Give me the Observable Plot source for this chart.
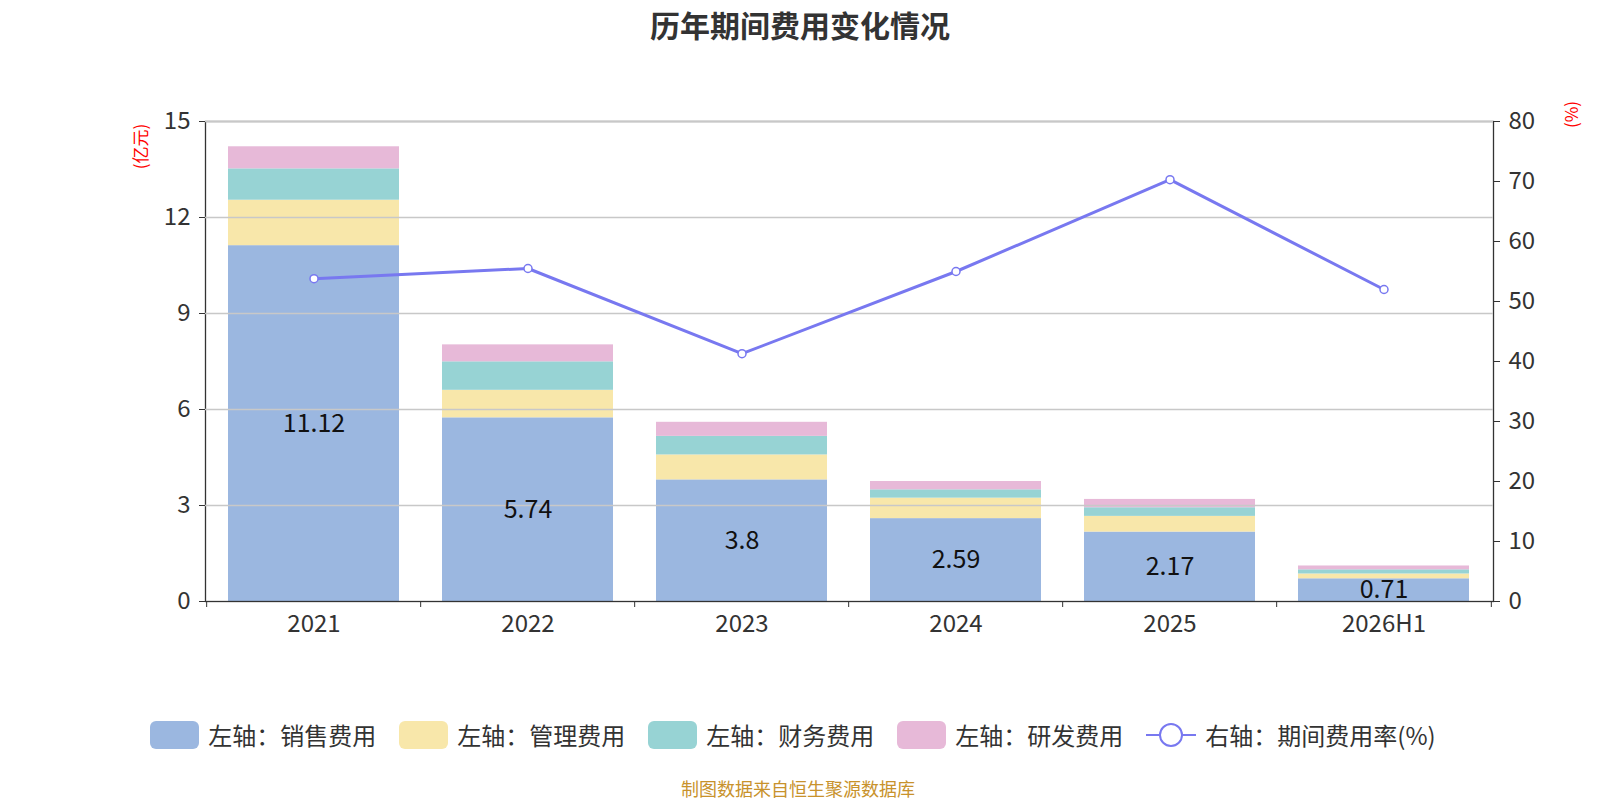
<!DOCTYPE html>
<html>
<head>
<meta charset="utf-8">
<script src="https://cdn.jsdelivr.net/npm/d3@7"></script>
<script src="https://cdn.jsdelivr.net/npm/@observablehq/plot@0.6"></script>
<style>
  html, body { margin: 0; padding: 0; background: #fff; }
  #wrap { position: relative; width: 1600px; height: 800px; font-family: "Noto Sans CJK SC", "Noto Sans", sans-serif; color: #333; overflow: hidden; }
  #title { position: absolute; left: 0; width: 1600px; top: 2px; text-align: center; font-size: 30px; font-weight: bold; color: #333; }
  #chart { position: absolute; left: 0; top: 50px; }
  .ylab { position: absolute; color: #f00; font-size: 17px; transform: rotate(-90deg); transform-origin: center; white-space: nowrap; }
  #legend { position: absolute; left: 0; width: 1586px; top: 717px; display: flex; justify-content: center; align-items: center; gap: 23px; font-size: 24px; color: #333; }
  .item { display: flex; align-items: center; gap: 9px; }
  .sw { width: 49px; height: 28px; border-radius: 6px; }
  #caption { position: absolute; left: 0; width: 1596px; top: 778px; height: 21px; line-height: 21px; text-align: center; font-size: 18px; color: #c8922c; }
</style>
</head>
<body>
<div id="wrap">
  <div id="title">历年期间费用变化情况</div>
  <div id="chart"></div>
  <div class="ylab" style="left:117px; top:134px;">(亿元)</div>
  <div class="ylab" style="left:1557px; top:102px;">(%)</div>
  <div id="legend"></div>
  <div id="caption">制图数据来自恒生聚源数据库</div>
</div>
<script>
const years = ["2021", "2022", "2023", "2024", "2025", "2026H1"];
const salesExp = [11.12, 5.74, 3.8, 2.59, 2.17, 0.71];
const adminExp = [1.42, 0.86, 0.78, 0.64, 0.49, 0.15];
const financeExp = [0.98, 0.89, 0.58, 0.26, 0.27, 0.13];
const rndExp = [0.69, 0.53, 0.44, 0.26, 0.26, 0.12];
const expenseRate = [53.8, 55.5, 41.3, 55.0, 70.3, 52.0];
const seriesNames = ["左轴：销售费用", "左轴：管理费用", "左轴：财务费用", "左轴：研发费用"];
const lineName = "右轴：期间费用率(%)";
const leftTicks = [0, 3, 6, 9, 12, 15];
const rightTicks = [0, 10, 20, 30, 40, 50, 60, 70, 80];

const colors = ["#9bb7e0", "#f8e7aa", "#97d3d4", "#e7b9d8"];
const lineColor = "#7878f0";

const seriesValues = [salesExp, adminExp, financeExp, rndExp];
const rows = [];
seriesNames.forEach((s, si) => {
  years.forEach((y, i) => rows.push({ year: y, series: s, value: seriesValues[si][i] }));
});
const salesRows = years.map((y, i) => ({ year: y, value: salesExp[i] }));
const rateRows = years.map((y, i) => ({ year: y, rate: expenseRate[i] }));

const W = 1600, H = 600;
const mL = 205, mR = 107, mT = 71, mB = 49;
const step = (W - mL - mR) / years.length;
const y2 = d3.scaleLinear([0, 80], [0, 15]);

const chart = Plot.plot({
  width: W,
  height: H,
  marginLeft: mL,
  marginRight: mR,
  marginTop: mT,
  marginBottom: mB,
  style: { fontFamily: "'Noto Sans CJK SC', 'Noto Sans', sans-serif", fontSize: "24px", color: "#333", background: "white" },
  x: { domain: years, paddingInner: 0.2, paddingOuter: 0.1, label: null },
  y: { domain: [0, 15], label: null },
  color: { domain: seriesNames, range: colors },
  marks: [
    Plot.barY(rows, Plot.stackY({ x: "year", y: "value", fill: "series", order: seriesNames })),
    Plot.frame({ stroke: "#333", strokeWidth: 1.3 }),
    Plot.gridY(leftTicks.filter(d => d > 0), { stroke: "#c8c8c8", strokeOpacity: 1, strokeWidth: 1.3 }),
    Plot.axisY(leftTicks, { anchor: "left", tickSize: 6, tickPadding: 9, fontSize: 24, label: null }),
    Plot.axisY(rightTicks, { anchor: "right", y: y2, tickFormat: d => String(d), tickSize: 6, tickPadding: 9, fontSize: 24, label: null }),
    Plot.axisX({ tickSize: 0, tickPadding: 13, fontSize: 24, label: null }),
    Plot.axisX(years, { tickSize: 6, fill: "none", stroke: "#333", dx: -step / 2, label: null }),
    Plot.axisX([years[years.length - 1]], { tickSize: 6, fill: "none", stroke: "#333", dx: step / 2, label: null }),
    Plot.text(salesRows, { x: "year", y: d => d.value / 2, text: d => String(d.value), fontSize: 25, fill: "#111" }),
    Plot.line(rateRows, { x: "year", y: d => y2(d.rate), stroke: lineColor, strokeWidth: 3 }),
    Plot.dot(rateRows, { x: "year", y: d => y2(d.rate), r: 4, fill: "white", stroke: lineColor, strokeWidth: 1.5 })
  ]
});
document.getElementById("chart").appendChild(chart);

const legend = document.getElementById("legend");
seriesNames.forEach((s, i) => {
  const it = document.createElement("div");
  it.className = "item";
  it.innerHTML = `<div class="sw" style="background:${colors[i]}"></div><span>${s}</span>`;
  legend.appendChild(it);
});
const li = document.createElement("div");
li.className = "item";
li.innerHTML = `<svg width="50" height="28"><line x1="0" y1="14" x2="50" y2="14" stroke="${lineColor}" stroke-width="2"/><circle cx="25" cy="14" r="11" fill="white" stroke="${lineColor}" stroke-width="2"/></svg><span>${lineName}</span>`;
legend.appendChild(li);
</script>
</body>
</html>
